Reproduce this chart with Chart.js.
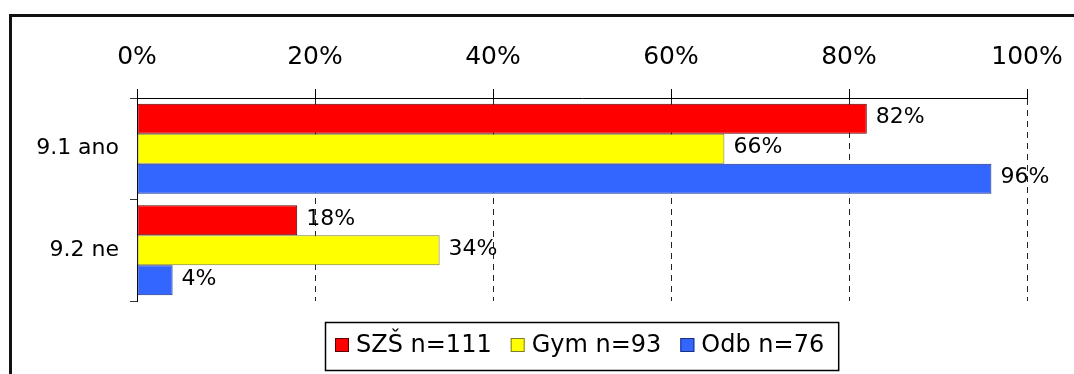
<!DOCTYPE html>
<html>
<head>
<meta charset="utf-8">
<script src="https://cdn.jsdelivr.net/npm/chart.js@4/dist/chart.umd.min.js"></script>
<style>
  html, body { margin: 0; padding: 0; background: #fff; overflow: hidden; }
  #wrap { position: relative; width: 1074px; height: 374px; }
  #frame { position: absolute; left: 9px; top: 14px; width: 1100px; height: 400px;
           border-left: 3px solid #111; border-top: 3px solid #111; box-sizing: border-box; }
  #c { position: absolute; left: 0; top: 0; }
</style>
</head>
<body>
<div id="wrap">
  <div id="frame"></div>
  <canvas id="c" width="1074" height="374"></canvas>
</div>
<script>
// Answer categories and the share of each school group (percent)
const categories = ['9.1 ano', '9.2 ne'];
const seriesNames = ['SZŠ n=111', 'Gym n=93', 'Odb n=76'];
const szsValues = [82, 18];
const gymValues = [66, 34];
const odbValues = [96, 4];
const tickValues = [0, 20, 40, 60, 80, 100];

const FONT = '"DejaVu Sans", Verdana, sans-serif';

// Value labels to the right of each bar
const valueLabels = {
  id: 'valueLabels',
  afterDatasetsDraw(chart) {
    const ctx = chart.ctx;
    ctx.save();
    ctx.font = '22px ' + FONT;
    ctx.fillStyle = '#000';
    ctx.textAlign = 'left';
    ctx.textBaseline = 'middle';
    chart.data.datasets.forEach((ds, di) => {
      chart.getDatasetMeta(di).data.forEach((bar, i) => {
        ctx.fillText(ds.data[i] + '%', bar.x + 9, bar.y - 1);
      });
    });
    ctx.restore();
  }
};

// Boxed legend below the plot, centred on the chart area
const boxedLegend = {
  id: 'boxedLegend',
  afterDraw(chart) {
    const ctx = chart.ctx;
    const area = chart.chartArea;
    const sq = 14, gapText = 7, gapItem = 19, padL = 10, padR = 14;
    ctx.save();
    ctx.font = '24px ' + FONT;
    const items = chart.data.datasets.map(ds => ({
      text: ds.label, fill: ds.backgroundColor, stroke: ds.borderColor,
      w: ctx.measureText(ds.label).width
    }));
    let total = padL + padR;
    items.forEach((it, i) => { total += sq + gapText + it.w + (i < items.length - 1 ? gapItem : 0); });
    const cx = (area.left + area.right) / 2;
    const left = Math.round(cx - total / 2);
    const top = 322, bottom = 370, midY = 345;
    ctx.lineWidth = 1.5;
    ctx.strokeStyle = '#000';
    ctx.strokeRect(left + 0.5, top + 0.5, total, bottom - top);
    let x = left + padL;
    ctx.textAlign = 'left';
    ctx.textBaseline = 'middle';
    items.forEach(it => {
      ctx.fillStyle = it.fill;
      ctx.fillRect(x, midY - sq / 2, sq, sq);
      ctx.lineWidth = 1;
      ctx.strokeStyle = it.stroke;
      ctx.strokeRect(x + 0.5, midY - sq / 2 + 0.5, sq - 1, sq - 1);
      x += sq + gapText;
      ctx.fillStyle = '#000';
      ctx.fillText(it.text, x, midY + 1);
      x += it.w + gapItem;
    });
    ctx.restore();
  }
};

new Chart(document.getElementById('c'), {
  type: 'bar',
  data: {
    labels: categories,
    datasets: [
      { label: seriesNames[0], data: szsValues, backgroundColor: '#ff0000', borderColor: '#5a0000' },
      { label: seriesNames[1], data: gymValues, backgroundColor: '#ffff00', borderColor: '#7a7a30' },
      { label: seriesNames[2], data: odbValues, backgroundColor: '#3366ff', borderColor: '#1a2f80' }
    ]
  },
  options: {
    indexAxis: 'y',
    responsive: false,
    animation: false,
    devicePixelRatio: 1,
    layout: { padding: { left: 0, top: 0, right: 47, bottom: 73 } },
    datasets: {
      bar: { categoryPercentage: 0.887, barPercentage: 1.0, borderWidth: 1, borderSkipped: false }
    },
    plugins: {
      legend: { display: false },
      tooltip: { enabled: false }
    },
    scales: {
      x: {
        position: 'top',
        min: 0,
        max: 100,
        afterBuildTicks(scale) { scale.ticks = tickValues.map(v => ({ value: v })); },
        afterFit(scale) {
          scale.height = 98;
          scale.paddingLeft = 0;
          scale.paddingRight = 0;
        },
        ticks: {
          callback: v => v + '%',
          font: { family: FONT, size: 25 },
          color: '#000',
          padding: 17,
          maxRotation: 0
        },
        grid: { color: '#222', lineWidth: 1, tickLength: 9, tickColor: '#000', drawTicks: true },
        border: { display: true, color: '#000', width: 1, dash: [6, 5] }
      },
      y: {
        afterFit(scale) {
          scale.width = 137;
          scale.paddingTop = 0;
          scale.paddingBottom = 0;
        },
        ticks: {
          font: { family: FONT, size: 22 },
          color: '#000',
          padding: 11
        },
        grid: { offset: true, drawOnChartArea: false, drawTicks: true, tickLength: 7, tickColor: '#333' },
        border: { display: true, color: '#000', width: 1 }
      }
    }
  },
  plugins: [valueLabels, boxedLegend]
});
</script>
</body>
</html>
